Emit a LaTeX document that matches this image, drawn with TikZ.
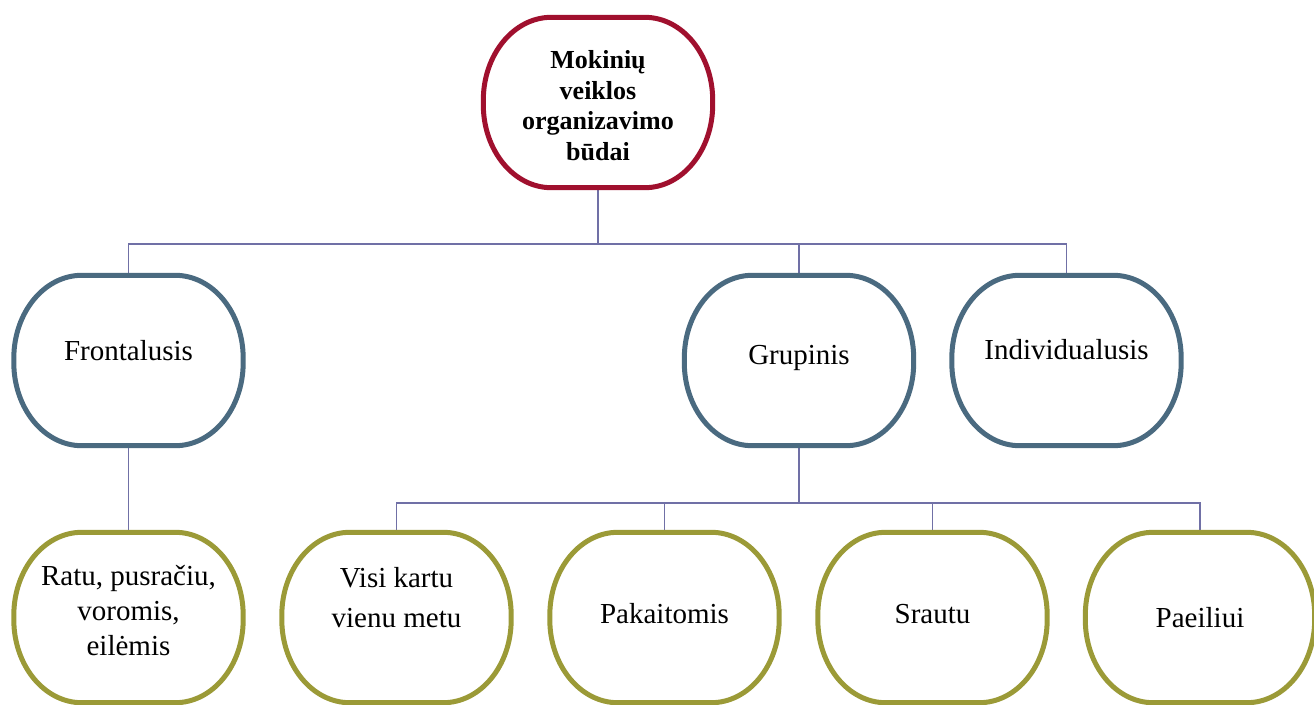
\documentclass[tikz,border=0pt]{standalone}
\usepackage{fontspec}
\setmainfont{Liberation Serif}
\usetikzlibrary{calc}
\definecolor{redc}{HTML}{A0102E}
\definecolor{slate}{HTML}{4A6A80}
\definecolor{olive}{HTML}{9B9A37}
\definecolor{linec}{HTML}{7070A6}
\tikzset{
  blob/.style={minimum width=229pt, minimum height=170pt, inner sep=0pt, draw=none},
  txt/.style={font=\fontsize{29}{34}\selectfont, align=center, inner sep=0pt, anchor=base},
  ttxt/.style={font=\fontsize{26}{30.5}\selectfont\bfseries, align=center, inner sep=0pt, anchor=base},
  conn/.style={draw=linec, line width=1.6pt},
}
\begin{document}
\begin{tikzpicture}[x=1pt,y=1pt]
\useasboundingbox (0,0) rectangle (1314,-704);
% shapes
\node[blob] (top) at (598,-102.5) {};
\node[blob] (fr) at (128.5,-360.5) {};
\node[blob] (gr) at (799,-360.5) {};
\node[blob] (ind) at (1066.5,-360.5) {};
\node[blob] (ratu) at (128.5,-617.5) {};
\node[blob] (visi) at (396.5,-617.5) {};
\node[blob] (pak) at (664.5,-617.5) {};
\node[blob] (sra) at (932.5,-617.5) {};
\node[blob] (pae) at (1200,-617.5) {};
% connectors
\coordinate (b1) at (598,-244);
\coordinate (b2) at (799,-503);
\draw[conn] (top.south) -- (b1);
\draw[conn] (fr.north) |- (b1) -| (ind.north);
\draw[conn] (b1) -| (gr.north);
\draw[conn] (fr.south) -- (ratu.north);
\draw[conn] (gr.south) -- (b2);
\draw[conn] (visi.north) |- (b2) -| (pae.north);
\draw[conn] (pak.north) |- (b2);
\draw[conn] (sra.north) |- (b2);
% outlines
\foreach \n/\c in {top/redc, fr/slate, gr/slate, ind/slate, ratu/olive, visi/olive, pak/olive, sra/olive, pae/olive}{
  \draw[line width=5pt, \c, fill=white]
    ([xshift=68pt]\n.north west) -- ([xshift=-68pt]\n.north east)
    arc[start angle=90, end angle=0, x radius=68pt, y radius=83pt]
    -- ([yshift=83pt]\n.south east)
    arc[start angle=0, end angle=-90, x radius=68pt, y radius=83pt]
    -- ([xshift=68pt]\n.south west)
    arc[start angle=270, end angle=180, x radius=68pt, y radius=83pt]
    -- ([yshift=-83pt]\n.north west)
    arc[start angle=180, end angle=90, x radius=68pt, y radius=83pt]
    -- cycle;
}
% texts
\node[ttxt] (toptxt) at (598,-160) {Mokinių\\veiklos\\organizavimo\\būdai};
\node[txt] (frtxt) at (128.5,-360) {Frontalusis};
\node[txt] (grtxt) at (799,-364) {Grupinis};
\node[txt] (indtxt) at (1066.5,-359) {Individualusis};
\node[txt, font=\fontsize{29}{35}\selectfont] (ratutxt) at (128.5,-655) {Ratu, pusračiu,\\voromis,\\eilėmis};
\node[txt, font=\fontsize{29}{40}\selectfont] (visitxt) at (396.5,-627) {Visi kartu\\vienu metu};
\node[txt] (paktxt) at (664.5,-623) {Pakaitomis};
\node[txt] (sratxt) at (932.5,-623) {Srautu};
\node[txt] (paetxt) at (1200,-627) {Paeiliui};
\end{tikzpicture}
\end{document}
